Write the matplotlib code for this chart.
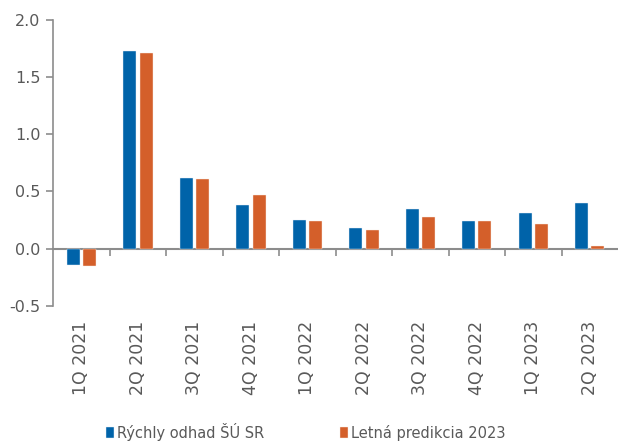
import matplotlib.pyplot as plt
import numpy as np

quarters = ['1Q 2021', '2Q 2021', '3Q 2021', '4Q 2021', '1Q 2022',
            '2Q 2022', '3Q 2022', '4Q 2022', '1Q 2023', '2Q 2023']
rychly_odhad = [-0.14, 1.73, 0.62, 0.38, 0.25, 0.18, 0.35, 0.24, 0.31, 0.40]
letna_predikcia = [-0.15, 1.71, 0.61, 0.47, 0.24, 0.16, 0.28, 0.24, 0.22, 0.02]

blue = '#0063A9'
orange = '#D45F2A'
gray = '#595959'
axis_gray = '#8C8C8C'

fig = plt.figure(figsize=(6.18, 4.42), dpi=100)
ax = fig.add_axes([0.086, 0.308, 0.914, 0.647])

x = np.arange(len(quarters))
w = 0.23
ax.bar(x - w / 2 - 0.03, rychly_odhad, w, color=blue, edgecolor='#E8F0F8', linewidth=0.3,
       label='Rýchly odhad ŠÚ SR', zorder=3)
ax.bar(x + w / 2 + 0.03, letna_predikcia, w, color=orange, edgecolor='#F8ECE6', linewidth=0.3,
       label='Letná predikcia 2023', zorder=3)

ax.set_xlim(-0.5, len(quarters) - 0.5)
ax.set_ylim(-0.5, 2.0)
ax.set_yticks(np.arange(-0.5, 2.01, 0.5))
ax.set_yticklabels(['-0.5', '0.0', '0.5', '1.0', '1.5', '2.0'])

for s in ['top', 'right', 'bottom']:
    ax.spines[s].set_visible(False)
ax.spines['left'].set_color(axis_gray)
ax.spines['left'].set_linewidth(1.2)
ax.tick_params(axis='y', colors=axis_gray, labelcolor=gray, labelsize=11.5,
               length=5, width=1.2, pad=4)

ax.set_xticks(x)
ax.set_xticklabels(quarters, rotation=90)
ax.tick_params(axis='x', length=0, labelsize=12.5, labelcolor=gray, pad=11)

# zero line with ticks between categories
sec = ax.secondary_xaxis(0, transform=ax.transData)
sec.set_xticks(np.arange(0.5, len(quarters) - 1, 1.0))
sec.set_xticklabels([])
sec.spines['bottom'].set_color(axis_gray)
sec.spines['bottom'].set_linewidth(1.5)
sec.tick_params(axis='x', colors=axis_gray, length=5, width=1.2, direction='out')

handles, labels = ax.get_legend_handles_labels()
leg = fig.legend(handles, labels, loc='lower center', bbox_to_anchor=(0.494, -0.027),
                 ncol=2, frameon=False, fontsize=10.5, handlelength=0.55,
                 handleheight=0.75, handletextpad=0.2, columnspacing=5.2)
for t in leg.get_texts():
    t.set_color(gray)

fig.savefig('out.png', dpi=100)
